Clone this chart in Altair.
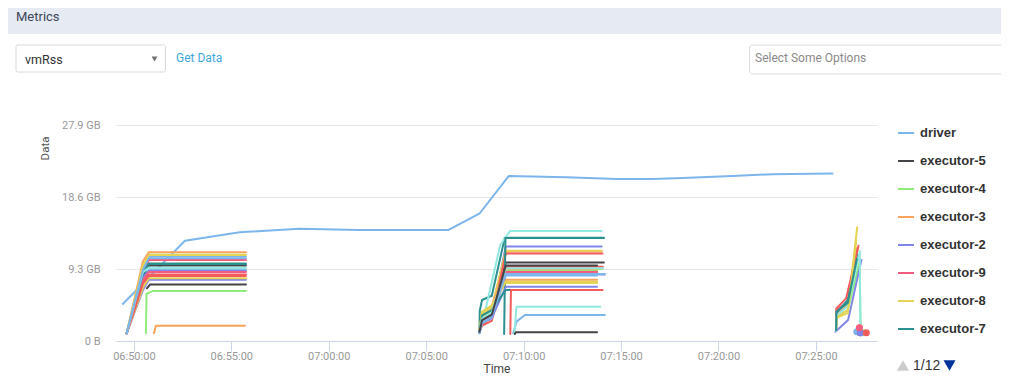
import altair as alt
import pandas as pd

DAY = "2024-01-01T"

# Highcharts default palette (series colours cycle through it)
PALETTE = ["#7cb5ec", "#434348", "#90ed7d", "#f7a35c", "#8085e9",
           "#f15c80", "#e4d354", "#2b908f", "#f45b5b", "#91e8e1"]

# ---------------- driver ----------------
driver_times = ["06:49:26", "06:52:37", "06:55:26", "06:58:30", "07:01:35",
                "07:06:09", "07:07:45", "07:09:14", "07:12:12", "07:14:46",
                "07:16:37", "07:18:09", "07:20:43", "07:22:46", "07:25:51"]
driver_vals = [4.78, 12.95, 14.05, 14.5, 14.35, 14.35, 16.5, 21.3, 21.15,
               20.92, 20.92, 21.05, 21.3, 21.55, 21.65]

# ---------------- executors, first run ----------------
G1 = ["06:49:38", "06:50:28", "06:50:46", "06:55:45"]
g1_names = ["executor-5", "executor-4", "executor-3", "executor-2", "executor-9",
            "executor-8", "executor-7", "executor-6", "executor-1", "executor-19",
            "executor-18", "executor-17", "executor-16", "executor-15", "executor-14",
            "executor-13", "executor-12", "executor-11", "executor-10", "executor-20"]
g1_times = [["06:50:40", "06:50:50", "06:55:45"],
            ["06:50:37", "06:50:39", "06:50:58", "06:55:45"],
            ["06:51:02", "06:51:08", "06:55:42"],
            G1, G1, G1, G1, G1, G1, G1, G1, G1, G1, G1, G1, G1, G1, G1, G1, G1]
g1_vals = [[6.8, 7.3, 7.3],
           [1.0, 6.1, 6.45, 6.45],
           [1.0, 1.98, 1.98],
           [1.0, 6.6, 7.9, 7.9],
           [0.95, 8.6, 10.45, 10.45],
           [1.0, 6.9, 8.1, 8.1],
           [1.0, 8.9, 10.0, 10.0],
           [1.05, 7.6, 8.6, 8.6],
           [1.0, 8.4, 9.3, 9.3],
           [0.9, 9.6, 10.9, 10.9],
           [1.0, 8.5, 9.75, 9.75],
           [1.0, 9.8, 11.15, 11.15],
           [1.0, 10.3, 11.45, 11.45],
           [1.0, 8.2, 9.1, 9.1],
           [1.0, 7.9, 8.9, 8.9],
           [1.0, 9.8, 11.1, 11.1],
           [1.0, 8.7, 9.95, 9.95],
           [1.0, 7.4, 8.4, 8.4],
           [1.0, 8.9, 9.45, 9.45],
           [1.0, 9.2, 10.7, 10.7]]

# ---------------- executors, second run ----------------
E = ["07:07:44", "07:07:52", "07:08:22", "07:09:05"]
g2_names = ["executor-%d" % i for i in [21, 22, 23, 24, 25, 26, 27, 28, 29, 30,
                                         31, 32, 33, 34, 35, 36, 37, 38, 39, 40,
                                         41, 42, 43, 44, 45, 46, 47, 48, 49, 50, 51]]
g2_times = [E + ["07:14:07"], E + ["07:14:02"], E + ["07:14:00"], E + ["07:14:00"],
            E + ["07:13:46"], E + ["07:14:00"],
            ["07:07:44", "07:07:45", "07:07:52", "07:08:22", "07:09:02", "07:14:07"],
            E + ["07:14:03"],
            ["07:07:44", "07:07:52", "07:08:48", "07:09:18", "07:14:00"],
            ["07:09:28", "07:09:38", "07:10:04", "07:14:10"],
            ["07:09:05", "07:09:10", "07:13:46"],
            E + ["07:13:46"], E + ["07:13:46"], E + ["07:14:10"], E + ["07:13:46"],
            E + ["07:13:46"],
            ["07:09:00", "07:09:04", "07:14:07"],
            E + ["07:14:04"],
            ["07:09:32", "07:09:38", "07:13:56"],
            E + ["07:13:46"],
            ["07:09:33", "07:09:36", "07:13:46"],
            E + ["07:13:46"], E + ["07:13:46"], E + ["07:13:46"], E + ["07:13:46"],
            E + ["07:13:46"], E + ["07:13:46"],
            ["07:09:19", "07:09:21", "07:14:03"],
            E + ["07:14:05"], E + ["07:14:10"], E + ["07:13:46"]]
g2_vals = [[1.2, 2.8, 3.5, 10.15, 10.15],
           [1.3, 3.3, 4.0, 9.3, 9.3],
           [1.2, 3.0, 4.3, 11.55, 11.55],
           [1.1, 2.6, 3.2, 12.2, 12.2],
           [1.3, 2.4, 3.0, 8.8, 8.8],
           [1.4, 3.6, 4.2, 11.65, 11.65],
           [1.2, 3.9, 5.3, 5.85, 13.35, 13.35],
           [1.1, 2.2, 2.9, 11.3, 11.3],
           [1.2, 2.1, 12.4, 14.2, 14.2],
           [1.0, 2.5, 3.36, 3.36],
           [8.9, 9.7, 9.7],
           [1.2, 3.1, 3.9, 9.25, 9.25],
           [1.3, 3.4, 4.5, 9.15, 9.15],
           [1.2, 2.7, 3.4, 8.6, 8.6],
           [1.3, 2.5, 3.1, 8.6, 8.6],
           [1.4, 3.8, 4.6, 7.5, 7.5],
           [0.9, 13.3, 13.3],
           [1.1, 2.0, 2.6, 9.6, 9.6],
           [1.0, 4.43, 4.43],
           [1.0, 2.3, 2.9, 8.45, 8.45],
           [0.9, 1.12, 1.12],
           [1.2, 3.0, 3.8, 9.0, 9.0],
           [1.3, 3.2, 4.1, 7.9, 7.9],
           [1.1, 2.5, 3.0, 7.0, 7.0],
           [1.3, 2.6, 3.3, 8.9, 8.9],
           [1.4, 3.5, 4.4, 7.65, 7.65],
           [1.2, 3.3, 4.0, 6.6, 6.6],
           [0.9, 6.6, 6.6],
           [1.2, 2.9, 3.7, 9.4, 9.4],
           [1.0, 2.4, 3.1, 8.65, 8.65],
           [1.2, 2.7, 3.4, 9.75, 9.75]]

# ---------------- executors, third run ----------------
A, A2, B = "07:26:02", "07:26:03", "07:26:38"
g3_names = ["executor-%d" % i for i in [52, 53, 54, 55, 56, 57, 58, 59, 60, 61,
                                         62, 63, 64, 65, 66, 67, 68]]
g3_times = [[A, A2, B, "07:27:14", "07:27:18"],
            [A, A2, B, "07:27:06"],
            ["07:26:00", "07:26:39", "07:27:20"],
            [A, A2, B, "07:27:08"],
            [A, A2, B, "07:27:07"],
            [A, A2, B, "07:27:07"],
            [A, A2, "07:26:33", "07:27:11"],
            [A, A2, B, "07:27:15", "07:27:17"],
            ["07:27:06"], ["07:27:17"], ["07:27:27"], ["07:27:14"], ["07:27:17"],
            ["07:27:14"],
            [A, A2, B, "07:27:04"],
            [A, A2, B, "07:27:06"],
            ["07:27:35"]]
g3_vals = [[1.3, 3.0, 4.0, 10.1, 1.1],
           [1.5, 3.4, 4.6, 12.0],
           [1.2, 2.7, 10.45],
           [1.4, 4.0, 5.0, 11.9],
           [1.6, 3.15, 4.0, 14.7],
           [1.5, 3.6, 5.3, 11.1],
           [1.7, 4.2, 5.5, 12.3],
           [1.3, 3.3, 4.5, 11.6, 1.2],
           [1.2], [1.07], [1.07], [1.72], [1.07], [1.72],
           [1.6, 3.0, 3.6, 13.0],
           [1.4, 3.8, 4.9, 10.6],
           [1.07]]

y_ticks = [0, 9.3, 18.6, 27.9]
x_tick_minutes = [(6, 50), (6, 55), (7, 0), (7, 5), (7, 10), (7, 15), (7, 20), (7, 25)]
legend_page = ["driver", "executor-5", "executor-4", "executor-3",
               "executor-2", "executor-9", "executor-8", "executor-7"]

# ---------------- build table ----------------
all_names = ["driver"] + g1_names + g2_names + g3_names
all_times = [driver_times] + g1_times + g2_times + g3_times
all_vals = [driver_vals] + g1_vals + g2_vals + g3_vals
rows = []
for order, (nm, ts, vs) in enumerate(zip(all_names, all_times, all_vals)):
    for t, v in zip(ts, vs):
        rows.append({"series": nm, "time": DAY + t, "value": v,
                     "single": len(ts) == 1, "order": order})
df = pd.DataFrame(rows)
colors = [PALETTE[i % len(PALETTE)] for i in range(len(all_names))]

color_scale = alt.Scale(domain=all_names, range=colors)
x_enc = alt.X("time:T",
              scale=alt.Scale(domain=[alt.DateTime(year=2024, month=1, date=1, hours=6, minutes=49, seconds=5),
                                      alt.DateTime(year=2024, month=1, date=1, hours=7, minutes=28, seconds=8)],
                              nice=False),
              axis=alt.Axis(values=[alt.DateTime(year=2024, month=1, date=1, hours=h, minutes=m)
                                    for h, m in x_tick_minutes],
                            format="%H:%M:%S", title="Time", grid=False,
                            labelFont="Roboto", labelFontSize=11, labelColor="#999999",
                            labelFlush=False, labelPadding=-1,
                            tickColor="#ccd6eb", domainColor="#ccd6eb", tickSize=10,
                            titleFont="Roboto", titleFontSize=12, titleFontWeight="normal",
                            titleColor="#444444", titleY=27, titleBaseline="middle"))
y_enc = alt.Y("value:Q",
              scale=alt.Scale(domain=[0, 27.9], nice=False),
              axis=alt.Axis(values=y_ticks,
                            labelExpr="datum.value == 0 ? '0 B' : format(datum.value, '.1f') + ' GB'",
                            grid=True, gridColor="#e6e6e6", domain=False, ticks=False, tickSize=0,
                            labelPadding=16, labelFont="Roboto", labelFontSize=11,
                            labelColor="#999999", title="Data", titleFont="Roboto",
                            titleFontSize=11.5, titleFontWeight="normal", titleColor="#555555",
                            titleX=-71, titleY=23, titleAlign="center", titleBaseline="middle"))

lines = alt.Chart(df).mark_line(strokeWidth=2, strokeJoin="round", strokeCap="round").encode(
    x=x_enc, y=y_enc,
    color=alt.Color("series:N", scale=color_scale,
                    legend=alt.Legend(values=legend_page, orient="none", legendX=781, legendY=-1,
                                      title=None, symbolType="stroke", symbolSize=256,
                                      symbolStrokeWidth=2, labelFont="Liberation Sans",
                                      labelFontWeight="bold", labelFontSize=13,
                                      labelColor="#333333", rowPadding=12, labelOffset=5,
                                      padding=0)),
    order="order:Q",
)
dots = alt.Chart(df).transform_filter("datum.single").mark_circle(size=50, opacity=1).encode(
    x="time:T", y="value:Q",
    color=alt.Color("series:N", scale=color_scale, legend=None),
)

one = pd.DataFrame({"k": [0]})


def rect(x, x2, y, y2, fill, stroke=None, radius=0):
    kw = dict(fill=fill, cornerRadius=radius)
    if stroke:
        kw.update(stroke=stroke, strokeWidth=1)
    return alt.Chart(one).mark_rect(**kw).encode(
        x=alt.value(x), x2=alt.value(x2), y=alt.value(y), y2=alt.value(y2))


def text(s, x, y, size, color, font="Roboto", weight="normal", align="left"):
    return alt.Chart(pd.DataFrame({"t": [s]})).mark_text(
        align=align, baseline="middle", font=font, fontSize=size, fontWeight=weight,
        color=color).encode(x=alt.value(x), y=alt.value(y), text="t:N")


def tri(shape, x, y, size, color):
    return alt.Chart(one).mark_point(shape=shape, filled=True, size=size, color=color,
                                     opacity=1).encode(x=alt.value(x), y=alt.value(y))


decor = [
    rect(-108, 893, -117, -91, "#e6eaf2"),
    text("Metrics", -100, -108, 13, "#3b4657"),
    rect(-100, 49.5, -80, -53, "#ffffff", "#d5d9df", 2),
    text("vmRss", -91, -65, 12.5, "#333333"),
    tri("triangle-down", 38.5, -66, 32, "#6e6e6e"),
    text("Get Data", 60, -67, 12, "#3ea7dc"),
    rect(633.5, 890, -80, -51, "#ffffff", "#d9dce2", 3),
    text("Select Some Options", 639, -67, 12, "#8a8a8a"),
    tri("triangle-up", 787, 240.5, 144, "#cccccc"),
    text("1/12", 797, 240.5, 14, "#333333", font="Liberation Sans"),
    tri("triangle-down", 833.5, 240.5, 144, "#003399"),
]

chart = alt.layer(*decor, lines, dots).resolve_legend(color="independent").properties(
    width=761, height=216,
    padding={"left": 108, "top": 117, "right": 124, "bottom": 33},
    autosize=alt.AutoSizeParams(type="none"),
    background="#ffffff",
).configure_view(stroke=None)

chart.save("out.html", embed_options={"renderer": "svg", "actions": False})
